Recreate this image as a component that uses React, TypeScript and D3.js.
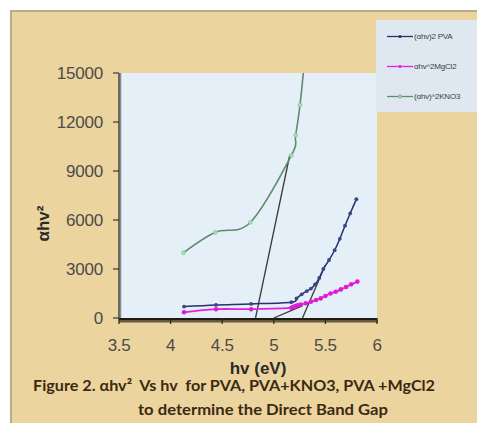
import React from "react";
import * as d3 from "d3";

const xTicks = [3.5, 4, 4.5, 5, 5.5, 6];
const yTicks = [0, 3000, 6000, 9000, 12000, 15000];

const pvaX = [4.13, 4.44, 4.78, 5.17, 5.22, 5.27, 5.32, 5.36, 5.4, 5.44, 5.48, 5.535, 5.59, 5.64, 5.69, 5.74, 5.8];
const pvaY = [700, 800, 860, 970, 1200, 1450, 1650, 1800, 2050, 2450, 3000, 3550, 4150, 4850, 5650, 6400, 7270];

const mgX = [4.13, 4.44, 4.78, 5.17, 5.19, 5.21, 5.23, 5.26, 5.31, 5.36, 5.41, 5.455, 5.5, 5.55, 5.6, 5.65, 5.7, 5.75, 5.81];
const mgY = [350, 540, 540, 620, 680, 730, 780, 830, 900, 1000, 1100, 1200, 1350, 1500, 1610, 1750, 1900, 2060, 2230];

const knoX = [4.125, 4.434, 4.774, 5.17, 5.212, 5.254, 5.3];
const knoY = [4000, 5250, 5860, 9950, 11200, 13040, 15900];

const tangents: [number, number][][] = [
  [[4.823, 0], [5.155, 9980]],
  [[5.278, 0], [5.5, 3250]],
  [[5.0, 0], [5.28, 760]],
];

const legendLabels = ["(αhv)2 PVA", "αhv^2MgCl2", "(αhv)^2KNO3"];
const legendColors = ["#27306e", "#e81ee0", "#5e8c6c"];

export default function App() {
  const W = 477, H = 423;
  const left = 119, right = 377, top = 73, bottom = 318;
  const x = d3.scaleLinear().domain([3.5, 6]).range([left, right]);
  const y = d3.scaleLinear().domain([0, 15000]).range([bottom, top]);

  const smooth = d3
    .line<[number, number]>()
    .x((d) => x(d[0]))
    .y((d) => y(d[1]))
    .curve(d3.curveCatmullRom.alpha(0));
  const straight = d3
    .line<[number, number]>()
    .x((d) => x(d[0]))
    .y((d) => y(d[1]));

  const pva = pvaX.map((v, i) => [v, pvaY[i]] as [number, number]);
  const mg = mgX.map((v, i) => [v, mgY[i]] as [number, number]);
  const kno = knoX.map((v, i) => [v, knoY[i]] as [number, number]);

  const tickFont = "'Liberation Sans', Arial, sans-serif";

  return (
    <svg width={W} height={H} style={{ position: "absolute", left: 0, top: 0 }}>
      <defs>
        <clipPath id="plotClip">
          <rect x={left} y={top} width={right - left} height={bottom - top} />
        </clipPath>
        <filter id="soft" x="-5%" y="-5%" width="110%" height="110%">
          <feGaussianBlur stdDeviation="0.35" />
        </filter>
      </defs>
      <rect x={0} y={0} width={W} height={H} fill="#ffffff" />
      <rect x={11} y={11} width={W} height={H} fill="#ecd49f" stroke="#b9ab8c" strokeWidth={2} />

      {/* plot area */}
      <rect x={left} y={top} width={right - left} height={bottom - top} fill="#e5eff8" />

      {/* tangent lines */}
      <g clipPath="url(#plotClip)">
        {tangents.map((t, i) => (
          <path key={i} d={straight(t) || ""} fill="none" stroke="#3a3a3a" strokeWidth={1.3} />
        ))}
      </g>

      {/* series */}
      <g clipPath="url(#plotClip)" filter="url(#soft)">
        <path d={smooth(kno) || ""} fill="none" stroke="#5e8c6c" strokeWidth={1.6} />
        {kno.map((d, i) => (
          <circle key={i} cx={x(d[0])} cy={y(d[1])} r={2} fill="#a9e0b9" stroke="#7fb895" strokeWidth={0.6} />
        ))}
        <path d={smooth(pva) || ""} fill="none" stroke="#27306e" strokeWidth={1.5} />
        {pva.map((d, i) => (
          <circle key={i} cx={x(d[0])} cy={y(d[1])} r={1.9} fill="#3c4587" />
        ))}
        <path d={smooth(mg) || ""} fill="none" stroke="#e81ee0" strokeWidth={1.8} />
        {mg.map((d, i) => (
          <circle key={i} cx={x(d[0])} cy={y(d[1])} r={2.3} fill="#de1ed6" />
        ))}
      </g>

      {/* y axis */}
      <line x1={left + 1.5} x2={left + 1.5} y1={top} y2={bottom} stroke="#8a8a8a" strokeWidth={1.5} />
      <line x1={left} x2={left} y1={top} y2={bottom} stroke="#2e2e2e" strokeWidth={1.3} />
      {yTicks.map((t) => (
        <g key={t}>
          <line x1={left - 6} x2={left} y1={y(t)} y2={y(t)} stroke="#3a3a3a" strokeWidth={1.2} />
          <text x={left - 16} y={y(t)} dy="0.36em" textAnchor="end" fontFamily={tickFont} fontSize={17} fill="#4b4b4b" letterSpacing={-0.2}>
            {t}
          </text>
        </g>
      ))}

      {/* x axis */}
      <line x1={left} x2={right + 1} y1={bottom + 3.5} y2={bottom + 3.5} stroke="#6b5a3e" strokeWidth={2} />
      <line x1={left} x2={right} y1={bottom + 1.2} y2={bottom + 1.2} stroke="#1f1a14" strokeWidth={2.6} />
      {xTicks.map((t) => (
        <g key={t}>
          <line x1={x(t)} x2={x(t)} y1={bottom} y2={bottom + 6} stroke="#2e2a22" strokeWidth={1.3} />
          <text x={x(t)} y={345} dy="0.36em" textAnchor="middle" fontFamily={tickFont} fontSize={17} fill="#4b4b4b" letterSpacing={-0.3}>
            {t}
          </text>
        </g>
      ))}

      {/* axis titles */}
      <text x={258} y={368} dy="0.36em" textAnchor="middle" fontFamily={tickFont} fontWeight="bold" fontSize={17} fill="#2a2a2a">
        hv (eV)
      </text>
      <text
        transform={`translate(43,${(top + bottom) / 2 + 28}) rotate(-90)`}
        dy="0.36em"
        textAnchor="middle"
        fontFamily={tickFont}
        fontWeight="bold"
        fontSize={17}
        fill="#2a2a2a"
      >
        αhv²
      </text>

      {/* caption */}
      <text x={33} y={386} dy="0.36em" fontFamily="Lato, 'Open Sans', sans-serif" fontWeight="bold" fontSize={15} fill="#3a2a12" textLength={402} lengthAdjust="spacingAndGlyphs" style={{ whiteSpace: "pre" }}>
        {"Figure 2. αhv²  Vs hv  for PVA, PVA+KNO3, PVA +MgCl2"}
      </text>
      <text x={138} y={410} dy="0.36em" fontFamily="Lato, 'Open Sans', sans-serif" fontWeight="bold" fontSize={15} fill="#3a2a12" textLength={250} lengthAdjust="spacingAndGlyphs">
        to determine the Direct Band Gap
      </text>

      {/* legend */}
      <rect x={376} y={20} width={110} height={92} fill="#dfe8f0" />
      {legendLabels.map((lab, i) => {
        const ly = 36.5 + i * 30;
        return (
          <g key={lab}>
            <line x1={387} x2={413} y1={ly} y2={ly} stroke={legendColors[i]} strokeWidth={1.3} />
            <circle cx={400} cy={ly} r={1.6} fill={i === 2 ? "#a9e0b9" : legendColors[i]} stroke={i === 2 ? "#5e8c6c" : "none"} strokeWidth={0.6} />
            <text x={414} y={ly} dy="0.35em" fontFamily={tickFont} fontSize={8} fill="#3d3d3d" letterSpacing={-0.2}>
              {lab}
            </text>
          </g>
        );
      })}
    </svg>
  );
}
